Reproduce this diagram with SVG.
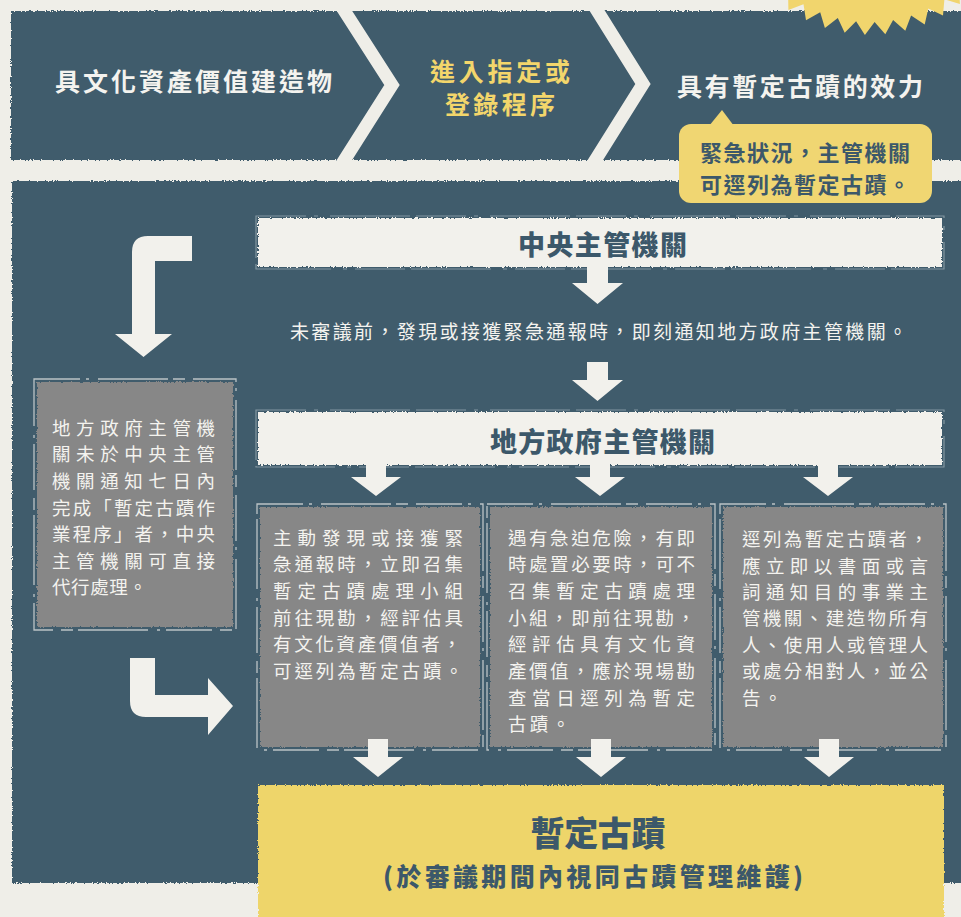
<svg xmlns="http://www.w3.org/2000/svg" width="961" height="917" viewBox="0 0 961 917">
  <defs>
    <filter id="rough" x="-3%" y="-3%" width="106%" height="106%">
      <feTurbulence type="fractalNoise" baseFrequency="0.6" numOctaves="2" seed="4" result="n"/>
      <feDisplacementMap in="SourceGraphic" in2="n" scale="3.5" xChannelSelector="R" yChannelSelector="G"/>
    </filter>
    <style>
      .cjk { font-family: 'Noto Sans CJK TC', 'Noto Sans CJK SC', sans-serif; }
      .blue { fill: #3f5b6c; }
      .bar { fill: #f2f1ec; }
      .gray { fill: #878787; }
      .frame { fill: none; stroke: #e4e6e4; stroke-width: 1.3; stroke-dasharray: 46 6 3 9 70 5 12 8; opacity: 0.75; }
      .barframe { fill: none; stroke: #9fb0b8; stroke-width: 1.2; stroke-dasharray: 50 8 4 12 80 6; opacity: 0.7; }
      .arrow { fill: #f2f1ec; }
      .chev { fill: none; stroke: #efeee8; stroke-width: 13; stroke-linejoin: miter; }
      .ban { font-size: 25px; font-weight: 700; }
      .head { font-size: 27px; font-weight: 900; fill: #3c586a; }
      .body { font-size: 18.5px; font-weight: 400; fill: #f4f3ef; }
    </style>
  </defs>

  <rect x="0" y="0" width="961" height="917" fill="#efeee8"/>

  <g id="banner">
    <rect class="blue" x="11" y="11" width="960" height="149" filter="url(#rough)"/>
    <polyline class="chev" points="340,4 392,85 340,167"/>
    <polyline class="chev" points="593,4 643,84 591,167"/>
    <polygon fill="#f1d56d" points="1007.2,-61.1 991.5,-56.9 998.9,-42.5 982.8,-40.5 988.1,-25.2 971.9,-25.5 975,-9.6 959,-12.2 959.9,4 944.4,-0.7 943,15.4 928.3,8.5 924.7,24.4 911.1,15.5 905.3,30.7 893.1,20 885.3,34.2 874.6,21.9 864.9,34.9 856.1,21.3 844.7,32.8 837.8,18 824.9,27.9 820.2,12.3 806,20.2 803.5,4.2 788.4,10 788.1,-6.2 772.3,-2.5 774.3,-18.6 758.2,-17.2 762.4,-32.8 746.2,-33.6 752.6,-48.6 736.6,-51.6 745,-65.5 745,-130 1010,-130"/>
  </g>

  <g id="step1">
    <text class="cjk ban" x="193.5" y="80" fill="#f4f3ef" text-anchor="middle" dominant-baseline="central" textLength="277" lengthAdjust="spacing">具文化資產價值建造物</text>
  </g>
  <g id="step2">
    <text class="cjk ban" x="500" y="70" fill="#f3d66b" text-anchor="middle" dominant-baseline="central" textLength="140" lengthAdjust="spacing">進入指定或</text>
    <text class="cjk ban" x="500" y="103" fill="#f3d66b" text-anchor="middle" dominant-baseline="central" textLength="110" lengthAdjust="spacing">登錄程序</text>
  </g>
  <g id="step3">
    <text class="cjk ban" x="800" y="85" fill="#f4f3ef" text-anchor="middle" dominant-baseline="central" textLength="246" lengthAdjust="spacing">具有暫定古蹟的效力</text>
  </g>

  <g id="panel">
    <rect class="blue" x="12" y="181" width="960" height="702" filter="url(#rough)"/>
  </g>

  <g id="note-bubble">
    <rect x="679" y="124" width="253" height="79" rx="12" fill="#f0d672"/>
    <polygon points="709,126 722,110 734,126" fill="#f0d672"/>
    <text class="cjk" x="805" y="151" font-size="22" font-weight="700" fill="#3c586a" text-anchor="middle" dominant-baseline="central" textLength="210" lengthAdjust="spacing">緊急狀況，主管機關</text>
    <text class="cjk" x="805" y="183" font-size="22" font-weight="700" fill="#3c586a" text-anchor="middle" dominant-baseline="central" textLength="210" lengthAdjust="spacing">可逕列為暫定古蹟。</text>
  </g>

  <g id="central-authority">
    <rect class="bar" x="258" y="218" width="684" height="49" filter="url(#rough)"/>
    <rect class="barframe" x="256" y="216" width="688" height="53"/>
    <text class="cjk head" x="602.5" y="243" text-anchor="middle" dominant-baseline="central" textLength="169" lengthAdjust="spacing">中央主管機關</text>
  </g>

  <g id="notice-text">
    <text class="cjk" x="598.5" y="330" font-size="19" fill="#f4f3ef" text-anchor="middle" dominant-baseline="central" textLength="617" lengthAdjust="spacing">未審議前，發現或接獲緊急通報時，即刻通知地方政府主管機關。</text>
  </g>

  <g id="local-authority">
    <rect class="bar" x="258" y="412" width="684" height="53" filter="url(#rough)"/>
    <rect class="barframe" x="256" y="410" width="688" height="57"/>
    <text class="cjk head" x="602.5" y="440" text-anchor="middle" dominant-baseline="central" textLength="225" lengthAdjust="spacing">地方政府主管機關</text>
  </g>

  <g id="left-note">
    <rect class="gray" x="37" y="382" width="196" height="245" filter="url(#rough)"/>
    <rect class="frame" x="34" y="379" width="202" height="251"/>
    <g class="cjk body" dominant-baseline="central">
      <text x="52" y="427" textLength="163" lengthAdjust="spacing">地方政府主管機</text>
      <text x="52" y="453" textLength="163" lengthAdjust="spacing">關未於中央主管</text>
      <text x="52" y="480" textLength="163" lengthAdjust="spacing">機關通知七日內</text>
      <text x="52" y="507" textLength="163" lengthAdjust="spacing">完成「暫定古蹟作</text>
      <text x="52" y="533" textLength="163" lengthAdjust="spacing">業程序」者，中央</text>
      <text x="52" y="560" textLength="163" lengthAdjust="spacing">主管機關可直接</text>
      <text x="52" y="586" textLength="95" lengthAdjust="spacing">代行處理。</text>
    </g>
  </g>

  <g id="box-1">
    <rect class="gray" x="260" y="507" width="220" height="240" filter="url(#rough)"/>
    <rect class="frame" x="257" y="504" width="226" height="246"/>
    <g class="cjk body" dominant-baseline="central">
      <text x="273" y="537" textLength="190" lengthAdjust="spacing">主動發現或接獲緊</text>
      <text x="273" y="563" textLength="190" lengthAdjust="spacing">急通報時，立即召集</text>
      <text x="273" y="590" textLength="190" lengthAdjust="spacing">暫定古蹟處理小組</text>
      <text x="273" y="617" textLength="190" lengthAdjust="spacing">前往現勘，經評估具</text>
      <text x="273" y="643" textLength="188" lengthAdjust="spacing">有文化資產價值者，</text>
      <text x="273" y="670" textLength="190" lengthAdjust="spacing">可逕列為暫定古蹟。</text>
    </g>
  </g>

  <g id="box-2">
    <rect class="gray" x="490" y="507" width="222" height="240" filter="url(#rough)"/>
    <rect class="frame" x="487" y="504" width="228" height="246"/>
    <g class="cjk body" dominant-baseline="central">
      <text x="508" y="537" textLength="187" lengthAdjust="spacing">遇有急迫危險，有即</text>
      <text x="508" y="563" textLength="187" lengthAdjust="spacing">時處置必要時，可不</text>
      <text x="508" y="590" textLength="187" lengthAdjust="spacing">召集暫定古蹟處理</text>
      <text x="508" y="617" textLength="187" lengthAdjust="spacing">小組，即前往現勘，</text>
      <text x="508" y="643" textLength="187" lengthAdjust="spacing">經評估具有文化資</text>
      <text x="508" y="670" textLength="187" lengthAdjust="spacing">產價值，應於現場勘</text>
      <text x="508" y="697" textLength="187" lengthAdjust="spacing">查當日逕列為暫定</text>
      <text x="508" y="723" textLength="62" lengthAdjust="spacing">古蹟。</text>
    </g>
  </g>

  <g id="box-3">
    <rect class="gray" x="723" y="507" width="220" height="240" filter="url(#rough)"/>
    <rect class="frame" x="720" y="504" width="226" height="246"/>
    <g class="cjk body" dominant-baseline="central">
      <text x="742" y="538" textLength="186" lengthAdjust="spacing">逕列為暫定古蹟者，</text>
      <text x="742" y="565" textLength="186" lengthAdjust="spacing">應立即以書面或言</text>
      <text x="742" y="591" textLength="186" lengthAdjust="spacing">詞通知目的事業主</text>
      <text x="742" y="617" textLength="186" lengthAdjust="spacing">管機關、建造物所有</text>
      <text x="742" y="644" textLength="186" lengthAdjust="spacing">人、使用人或管理人</text>
      <text x="742" y="670" textLength="186" lengthAdjust="spacing">或處分相對人，並公</text>
      <text x="742" y="697" textLength="40" lengthAdjust="spacing">告。</text>
    </g>
  </g>

  <g id="result">
    <rect x="258" y="785" width="686" height="140" fill="#eed56a" filter="url(#rough)"/>
    <text class="cjk" x="598" y="831" font-size="34" font-weight="900" fill="#3c586a" text-anchor="middle" dominant-baseline="central" textLength="135" lengthAdjust="spacing">暫定古蹟</text>
    <text class="cjk" x="593" y="875" font-size="25" font-weight="900" fill="#3c586a" text-anchor="middle" dominant-baseline="central" textLength="420" lengthAdjust="spacing">(於審議期間內視同古蹟管理維護)</text>
  </g>

  <g id="connectors">
    <path class="arrow" d="M192,236 L148,236 Q132,236 132,252 L132,334 L115,334 L143.5,357 L172,334 L155,334 L155,261 L192,261 Z"/>
    <path class="arrow" d="M130,658 L155,658 L155,695 L208,695 L208,678 L233,706 L208,735 L208,717 L146,717 Q130,717 130,701 Z"/>
    <path class="arrow" d="M587,266 L608,266 L608,283 L623,283 L597.5,304 L572,283 L587,283 Z"/>
    <path class="arrow" d="M587,362 L608,362 L608,380 L623,380 L597.5,401 L572,380 L587,380 Z"/>
    <path class="arrow" d="M366,464 L386,464 L386,477 L401,477 L376,496 L351,477 L366,477 Z"/>
    <path class="arrow" d="M590,464 L610,464 L610,477 L625,477 L600,496 L575,477 L590,477 Z"/>
    <path class="arrow" d="M818,464 L838,464 L838,477 L853,477 L828,496 L803,477 L818,477 Z"/>
    <path class="arrow" d="M368,739 L388,739 L388,757 L403,757 L378,777 L353,757 L368,757 Z"/>
    <path class="arrow" d="M591,739 L611,739 L611,757 L626,757 L601,777 L576,757 L591,757 Z"/>
    <path class="arrow" d="M819,739 L839,739 L839,757 L854,757 L829,777 L804,757 L819,757 Z"/>
  </g>
</svg>
